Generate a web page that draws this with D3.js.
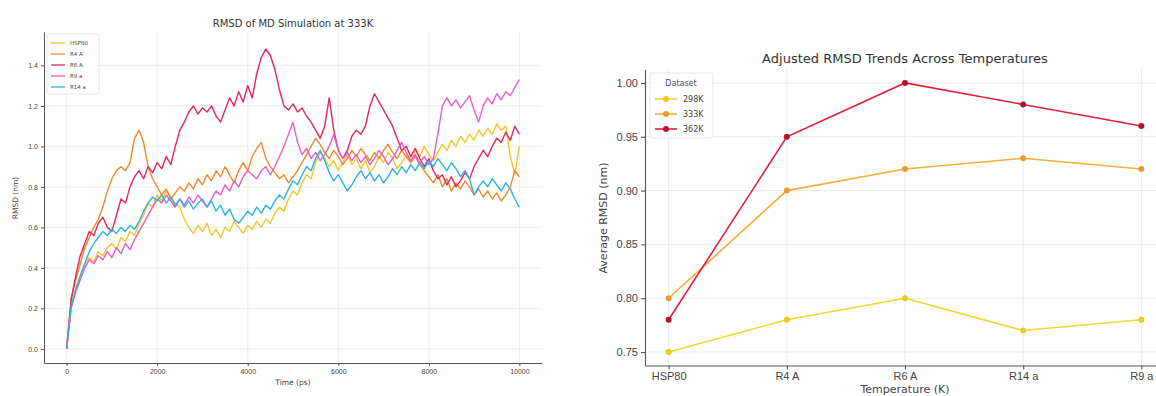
<!DOCTYPE html>
<html><head><meta charset="utf-8">
<script src="https://cdn.jsdelivr.net/npm/d3@7"></script>
<style>
body{margin:0;background:#fff}
svg{display:block;font-family:"DejaVu Sans",sans-serif}
</style>
</head><body>
<svg id="chart" width="1156" height="396"></svg>
<script>
// ---- Left panel: RMSD trajectories at 333K (sampled every 100 ps) ----
const timePs = d3.range(0, 10001, 100);
const trajNames = ["HSP80", "R4 A", "R6 A", "R9 a", "R14 a"];
const trajColors = ["#f7c52a", "#f08a28", "#e3265c", "#e85ccf", "#2bb3e6"];

const rmsdHSP80 = [0.00,0.22,0.30,0.36,0.42,0.45,0.43,0.48,0.46,0.50,0.52,0.49,0.55,0.53,0.58,0.56,0.62,0.66,0.72,0.70,
  0.76,0.73,0.78,0.75,0.72,0.70,0.64,0.60,0.57,0.61,0.58,0.62,0.56,0.59,0.55,0.60,0.58,0.63,0.60,0.57,
  0.61,0.59,0.63,0.60,0.64,0.62,0.67,0.70,0.68,0.74,0.78,0.76,0.82,0.86,0.84,0.92,0.97,0.94,0.90,0.93,
  0.88,0.92,0.96,0.91,0.94,0.89,0.93,0.87,0.90,0.95,0.92,0.97,0.94,0.89,0.92,0.96,0.93,0.98,0.95,1.00,
  0.96,0.93,0.97,1.01,0.98,1.03,1.00,1.05,1.02,1.06,1.03,1.08,1.05,1.09,1.06,1.11,1.08,1.10,0.95,0.86,1.00];
const rmsdR4A = [0.00,0.25,0.34,0.42,0.50,0.55,0.60,0.64,0.70,0.78,0.84,0.88,0.90,0.88,0.92,1.04,1.08,1.02,0.90,0.84,
  0.80,0.76,0.79,0.74,0.77,0.80,0.78,0.82,0.79,0.84,0.81,0.86,0.83,0.88,0.85,0.90,0.86,0.82,0.88,0.92,
  0.88,0.95,0.99,1.02,0.94,0.90,0.87,0.84,0.86,0.82,0.85,0.88,0.92,0.96,1.00,1.04,1.01,0.97,0.94,0.98,
  0.95,0.91,0.94,0.98,0.95,0.99,0.96,0.93,0.97,0.94,0.98,1.01,0.97,0.94,0.98,0.95,0.92,0.95,0.91,0.88,
  0.85,0.82,0.86,0.80,0.84,0.78,0.82,0.79,0.83,0.80,0.76,0.79,0.75,0.78,0.74,0.77,0.73,0.76,0.80,0.88,0.85];
const rmsdR6A = [0.00,0.24,0.36,0.46,0.52,0.58,0.56,0.62,0.65,0.60,0.58,0.66,0.74,0.72,0.80,0.85,0.88,0.84,0.90,0.87,
  0.92,0.89,0.95,0.91,1.00,1.08,1.12,1.17,1.20,1.16,1.19,1.17,1.20,1.15,1.12,1.18,1.24,1.20,1.27,1.22,
  1.30,1.24,1.36,1.44,1.48,1.45,1.38,1.28,1.20,1.18,1.21,1.17,1.19,1.15,1.12,1.08,1.04,1.10,1.24,1.08,
  0.98,0.94,0.98,1.05,1.08,1.06,1.10,1.20,1.26,1.22,1.18,1.14,1.10,1.04,0.98,1.00,0.95,0.99,0.94,0.90,
  0.94,0.88,0.84,0.86,0.81,0.85,0.80,0.83,0.87,0.84,0.90,0.94,0.98,0.95,1.00,1.04,1.02,1.07,1.03,1.10,1.06];
const rmsdR9a = [0.00,0.20,0.28,0.34,0.40,0.44,0.42,0.46,0.44,0.48,0.45,0.50,0.47,0.52,0.49,0.54,0.58,0.62,0.66,0.70,
  0.74,0.72,0.76,0.73,0.70,0.74,0.71,0.75,0.72,0.76,0.73,0.70,0.74,0.78,0.76,0.81,0.78,0.83,0.80,0.85,
  0.88,0.86,0.84,0.88,0.90,0.86,0.90,0.95,1.00,1.06,1.12,1.02,0.96,0.99,0.94,0.97,0.93,0.96,1.00,1.06,
  0.98,0.94,0.97,0.93,0.96,0.92,0.95,0.91,0.94,0.98,0.95,0.91,0.94,0.98,1.02,0.97,0.93,0.96,0.92,0.95,
  0.91,0.94,1.06,1.20,1.24,1.20,1.23,1.19,1.22,1.25,1.18,1.12,1.20,1.24,1.21,1.26,1.23,1.27,1.25,1.29,1.33];
const rmsdR14a = [0.00,0.21,0.29,0.36,0.42,0.48,0.52,0.55,0.58,0.56,0.59,0.57,0.60,0.58,0.61,0.59,0.63,0.68,0.72,0.75,
  0.73,0.76,0.72,0.75,0.71,0.74,0.70,0.73,0.69,0.72,0.74,0.70,0.73,0.68,0.71,0.66,0.69,0.64,0.62,0.65,
  0.68,0.66,0.70,0.67,0.71,0.69,0.73,0.76,0.74,0.79,0.83,0.81,0.86,0.90,0.88,0.94,0.98,0.93,0.87,0.83,
  0.86,0.82,0.78,0.81,0.85,0.88,0.84,0.87,0.83,0.86,0.82,0.85,0.89,0.86,0.90,0.87,0.91,0.88,0.92,0.89,
  0.93,0.90,0.94,0.91,0.88,0.92,0.89,0.85,0.88,0.84,0.76,0.80,0.83,0.80,0.84,0.81,0.78,0.82,0.79,0.74,0.70];
const trajSeries = [rmsdHSP80, rmsdR4A, rmsdR6A, rmsdR9a, rmsdR14a];
const leftXTicks = [0, 2000, 4000, 6000, 8000, 10000];
const leftYTicks = [0.0, 0.2, 0.4, 0.6, 0.8, 1.0, 1.2, 1.4];

// ---- Right panel: average RMSD per system at three temperatures ----
const systems = ["HSP80", "R4 A", "R6 A", "R14 a", "R9 a"];
const datasetNames = ["298K", "333K", "362K"];
const avg298K = [0.75, 0.78, 0.80, 0.77, 0.78];
const avg333K = [0.80, 0.90, 0.92, 0.93, 0.92];
const avg362K = [0.78, 0.95, 1.00, 0.98, 0.96];
const datasetValues = [avg298K, avg333K, avg362K];
const datasetLine = ["#f6d530", "#f2ae3c", "#e3203c"];
const datasetMarker = ["#eacb20", "#e69c30", "#b8102c"];
const rightYTicks = [0.75, 0.80, 0.85, 0.90, 0.95, 1.00];

const svg = d3.select("#chart");
const gridColor = "#ebebeb";
const axisColor = "#555";
const textColor = "#444";

// ===== Left chart =====
const xL = d3.scaleLinear().domain([-500, 10500]).range([44, 542]);
const yL = d3.scaleLinear().domain([-0.07, 1.565]).range([363, 32]);
const gl = svg.append("g");

gl.selectAll("line.vg").data(leftXTicks).join("line")
  .attr("x1", d => xL(d)).attr("x2", d => xL(d))
  .attr("y1", yL.range()[1]).attr("y2", yL.range()[0])
  .attr("stroke", gridColor).attr("stroke-width", 0.9);
gl.selectAll("line.hg").data(leftYTicks).join("line")
  .attr("x1", xL.range()[0]).attr("x2", xL.range()[1])
  .attr("y1", d => yL(d)).attr("y2", d => yL(d))
  .attr("stroke", gridColor).attr("stroke-width", 0.9);

const lineL = d3.line().x((d, i) => xL(timePs[i])).y(d => yL(d));
gl.selectAll("path.traj").data(trajSeries).join("path")
  .attr("d", lineL).attr("fill", "none")
  .attr("stroke", (d, i) => trajColors[i]).attr("stroke-width", 1.4)
  .attr("stroke-linejoin", "round");

const axL = gl.append("g").attr("transform", `translate(${xL.range()[0]},0)`)
  .call(d3.axisLeft(yL).tickValues(leftYTicks).tickFormat(d3.format(".1f")).tickSize(3).tickSizeOuter(0));
const axB = gl.append("g").attr("transform", `translate(0,${yL.range()[0]})`)
  .call(d3.axisBottom(xL).tickValues(leftXTicks).tickFormat(d3.format("d")).tickSize(3).tickSizeOuter(0));
[axL, axB].forEach(a => {
  a.selectAll("path,line").attr("stroke", axisColor);
  a.selectAll("text").attr("fill", textColor).style("font-size", "7px");
});

gl.append("text").attr("x", 293).attr("y", 27).attr("text-anchor", "middle")
  .attr("fill", "#333").style("font-size", "10px").text("RMSD of MD Simulation at 333K");
gl.append("text").attr("x", 293).attr("y", 385).attr("text-anchor", "middle")
  .attr("fill", textColor).style("font-size", "7.5px").text("Time (ps)");
gl.append("text").attr("transform", "translate(18,198) rotate(-90)").attr("text-anchor", "middle")
  .attr("fill", textColor).style("font-size", "7.5px").text("RMSD (nm)");

// legend
const lgL = gl.append("g").attr("transform", "translate(47,34)");
lgL.append("rect").attr("width", 52).attr("height", 60).attr("rx", 2)
  .attr("fill", "#fff").attr("fill-opacity", 0.85).attr("stroke", "#e2e2e2").attr("stroke-width", 0.8);
trajNames.forEach((n, i) => {
  const y = 9 + i * 11;
  lgL.append("line").attr("x1", 4).attr("x2", 18).attr("y1", y).attr("y2", y)
    .attr("stroke", trajColors[i]).attr("stroke-width", 1.3);
  lgL.append("text").attr("x", 23).attr("y", y + 2).attr("fill", textColor)
    .style("font-size", "5.5px").text(n);
});

// ===== Right chart =====
const xR = d3.scalePoint().domain(systems).range([645, 1165]).padding(0.2);
const yR = d3.scaleLinear().domain([0.7375, 1.0125]).range([365.5, 69.5]);
const gr = svg.append("g");

gr.selectAll("line.vg").data(systems).join("line")
  .attr("x1", d => xR(d)).attr("x2", d => xR(d))
  .attr("y1", yR.range()[1]).attr("y2", yR.range()[0])
  .attr("stroke", gridColor).attr("stroke-width", 1);
gr.selectAll("line.hg").data(rightYTicks).join("line")
  .attr("x1", xR.range()[0]).attr("x2", xR.range()[1])
  .attr("y1", d => yR(d)).attr("y2", d => yR(d))
  .attr("stroke", gridColor).attr("stroke-width", 1);

const lineR = d3.line().x((d, i) => xR(systems[i])).y(d => yR(d));
datasetValues.forEach((vals, k) => {
  gr.append("path").datum(vals).attr("d", lineR).attr("fill", "none")
    .attr("stroke", datasetLine[k]).attr("stroke-width", 1.6);
  gr.selectAll(null).data(vals).join("circle")
    .attr("cx", (d, i) => xR(systems[i])).attr("cy", d => yR(d)).attr("r", 3)
    .attr("fill", datasetMarker[k]);
});

const axRL = gr.append("g").attr("transform", `translate(${xR.range()[0]},0)`)
  .call(d3.axisLeft(yR).tickValues(rightYTicks).tickFormat(d3.format(".2f")).tickSize(4).tickSizeOuter(0));
const axRB = gr.append("g").attr("transform", `translate(0,${yR.range()[0]})`)
  .call(d3.axisBottom(xR).tickSize(4).tickSizeOuter(0));
[axRL, axRB].forEach(a => {
  a.selectAll("path,line").attr("stroke", axisColor).attr("stroke-width", 1.1);
  a.selectAll("text").attr("fill", textColor).style("font-size", "11px");
});

gr.append("text").attr("x", 905).attr("y", 63).attr("text-anchor", "middle")
  .attr("fill", "#333").style("font-size", "13px").text("Adjusted RMSD Trends Across Temperatures");
gr.append("text").attr("x", 905).attr("y", 393).attr("text-anchor", "middle")
  .attr("fill", textColor).style("font-size", "11px").text("Temperature (K)");
gr.append("text").attr("transform", "translate(607,218) rotate(-90)").attr("text-anchor", "middle")
  .attr("fill", textColor).style("font-size", "11px").text("Average RMSD (nm)");

// legend
const lgR = gr.append("g").attr("transform", "translate(650,73)");
lgR.append("rect").attr("width", 63).attr("height", 65).attr("rx", 2)
  .attr("fill", "#fff").attr("fill-opacity", 0.85).attr("stroke", "#e2e2e2").attr("stroke-width", 0.8);
lgR.append("text").attr("x", 31).attr("y", 13).attr("text-anchor", "middle")
  .attr("fill", "#4a4f80").style("font-size", "8px").text("Dataset");
datasetNames.forEach((n, k) => {
  const y = 26 + k * 15;
  lgR.append("line").attr("x1", 5).attr("x2", 27).attr("y1", y).attr("y2", y)
    .attr("stroke", datasetLine[k]).attr("stroke-width", 1.6);
  lgR.append("circle").attr("cx", 16).attr("cy", y).attr("r", 3).attr("fill", datasetMarker[k]);
  lgR.append("text").attr("x", 33).attr("y", y + 3).attr("fill", textColor)
    .style("font-size", "8px").text(n);
});
</script>
</body></html>
